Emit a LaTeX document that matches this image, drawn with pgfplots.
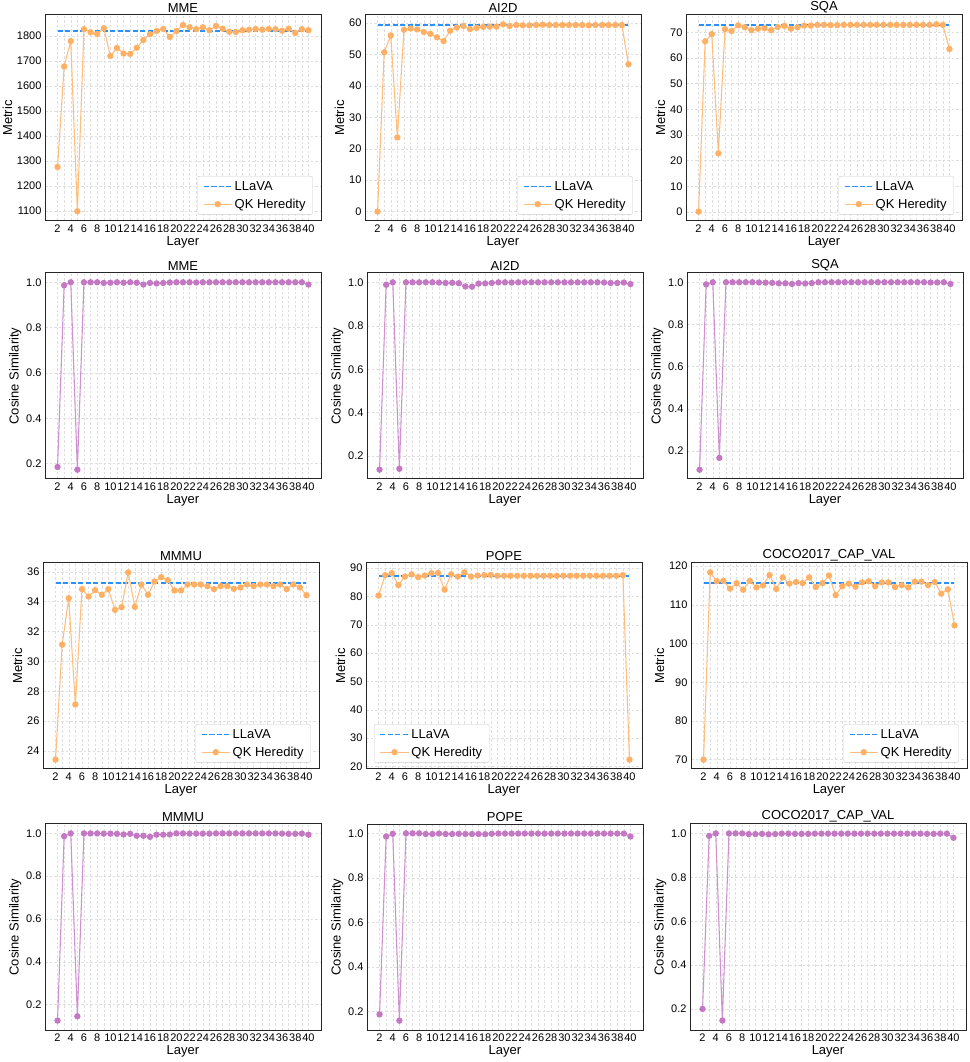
\documentclass[border=0pt]{standalone}
\usepackage{fontspec}
\setmainfont{Liberation Sans}
\usepackage{pgfplots}
\pgfplotsset{compat=1.18}

\definecolor{llava}{RGB}{40,145,255}
\definecolor{qkline}{RGB}{255,190,125}
\definecolor{qkmark}{RGB}{255,176,100}
\definecolor{cosline}{RGB}{208,145,208}
\definecolor{cosmark}{RGB}{196,120,196}

\pgfplotsset{
  panel/.style={
    width=276pt, height=206pt, scale only axis,
    xmin=0.1, xmax=41.9,
    xtick={2,4,...,40}, minor xtick={3,5,...,39},
    grid=both,
    major grid style={dash pattern=on 2.5pt off 2pt, black!13, line width=0.5pt},
    minor grid style={dash pattern=on 2.5pt off 2pt, black!13, line width=0.5pt},
    major tick length=0pt, minor tick length=0pt,
    axis line style={black!85, line width=1pt},
    xlabel={Layer},
    tick label style={font=\fontsize{11}{12}\selectfont},
    label style={font=\fontsize{13}{14}\selectfont},
    xlabel style={yshift=3pt},
    ylabel style={yshift=-2pt},
    title style={font=\fontsize{13}{14}\selectfont, yshift=-7.5pt},
    /pgf/number format/assume math mode=true,
    /pgf/number format/1000 sep={},
    legend cell align=left,
    legend style={font=\fontsize{13}{15}\selectfont, draw=black!20, rounded corners=2pt,
      fill=white, inner xsep=5pt, inner ysep=3pt, row sep=3pt},
    legend image code/.code={\draw[mark repeat=2,mark phase=2,#1]
      plot coordinates {(0cm,0cm) (0.5cm,0cm) (1cm,0cm)};},
  },
  metric/.style={panel, ylabel={Metric}},
  cosine/.style={panel, ylabel={Cosine Similarity},
    ytick={0.2,0.4,...,1.0},
    yticklabel style={/pgf/number format/.cd, fixed, fixed zerofill, precision=1}},
  llavaline/.style={color=llava, dash pattern=on 5pt off 2.5pt, line width=1.5pt, no markers},
  qk/.style={color=qkline, line width=1.1pt, mark=*, mark size=2.6pt,
    mark options={solid, draw=qkmark, fill=qkmark}},
  cs/.style={color=cosline, line width=1.1pt, mark=*, mark size=2.6pt,
    mark options={solid, draw=cosmark, fill=cosmark}},
}

\begin{document}
\begin{tikzpicture}
\useasboundingbox (0pt,0pt) rectangle (969pt,1062pt);

% ---------- row 1: metric ----------
\begin{axis}[metric, at={(45pt,841pt)}, title={MME}, ymin=1060, ymax=1884,
  ytick={1100,1200,...,1800},
  legend style={at={(0.97,0.03)}, anchor=south east}]
\addplot[llavaline] coordinates {(2,1819) (40,1819)};
\addlegendentry{LLaVA}
\addplot[qk] coordinates {(2,1276)(3,1678)(4,1780)(5,1099)(6,1827)(7,1815)(8,1808)(9,1831)(10,1720)(11,1752)(12,1730)(13,1728)(14,1753)(15,1784)(16,1807)(17,1820)(18,1828)(19,1796)(20,1820)(21,1844)(22,1835)(23,1827)(24,1835)(25,1823)(26,1840)(27,1829)(28,1817)(29,1816)(30,1823)(31,1825)(32,1828)(33,1825)(34,1828)(35,1827)(36,1821)(37,1829)(38,1812)(39,1827)(40,1823)};
\addlegendentry{QK Heredity}
\end{axis}

\begin{axis}[metric, at={(365pt,841pt)}, title={AI2D}, ymin=-3, ymax=62.6,
  ytick={0,10,...,60},
  legend style={at={(0.97,0.03)}, anchor=south east}]
\addplot[llavaline] coordinates {(2,59.4) (40,59.4)};
\addlegendentry{LLaVA}
\addplot[qk] coordinates {(2,0)(3,50.7)(4,56.1)(5,23.6)(6,57.9)(7,58.3)(8,58.0)(9,57.2)(10,56.6)(11,55.5)(12,54.3)(13,57.6)(14,58.6)(15,59.1)(16,58.1)(17,58.5)(18,58.8)(19,58.9)(20,58.9)(21,59.6)(22,59.1)(23,59.4)(24,59.3)(25,59.3)(26,59.4)(27,59.5)(28,59.4)(29,59.4)(30,59.4)(31,59.4)(32,59.4)(33,59.4)(34,59.3)(35,59.4)(36,59.4)(37,59.4)(38,59.4)(39,59.4)(40,46.9)};
\addlegendentry{QK Heredity}
\end{axis}

\begin{axis}[metric, at={(686pt,841pt)}, title={SQA}, ymin=-3.55, ymax=76.75,
  ytick={0,10,...,70},
  legend style={at={(0.97,0.03)}, anchor=south east}]
\addplot[llavaline] coordinates {(2,72.9) (40,72.9)};
\addlegendentry{LLaVA}
\addplot[qk] coordinates {(2,0.1)(3,66.5)(4,69.3)(5,22.8)(6,71.2)(7,70.5)(8,72.7)(9,72.0)(10,70.8)(11,71.4)(12,71.6)(13,70.8)(14,72.1)(15,72.5)(16,71.4)(17,72.0)(18,72.6)(19,72.6)(20,72.9)(21,72.9)(22,72.8)(23,72.8)(24,72.9)(25,72.9)(26,72.9)(27,72.9)(28,72.9)(29,72.9)(30,72.9)(31,72.9)(32,72.9)(33,72.9)(34,72.9)(35,72.9)(36,72.9)(37,72.9)(38,73.1)(39,72.9)(40,63.5)};
\addlegendentry{QK Heredity}
\end{axis}

% ---------- row 2: cosine ----------
\begin{axis}[cosine, at={(45pt,583pt)}, title={MME}, ymin=0.132, ymax=1.041]
\addplot[cs] coordinates {(2,0.185)(3,0.987)(4,1.0)(5,0.173)(6,1.0)(7,1.0)(8,1.0)(9,0.997)(10,0.998)(11,1.0)(12,0.998)(13,1.0)(14,0.998)(15,0.99)(16,0.997)(17,0.995)(18,0.997)(19,0.999)(20,1.0)(21,1.0)(22,1.0)(23,0.999)(24,1.0)(25,1.0)(26,1.0)(27,1.0)(28,1.0)(29,1.0)(30,1.0)(31,1.0)(32,1.0)(33,1.0)(34,1.0)(35,1.0)(36,1.0)(37,1.0)(38,1.0)(39,1.0)(40,0.99)};
\end{axis}

\begin{axis}[cosine, at={(367pt,583pt)}, title={AI2D}, ymin=0.095, ymax=1.043]
\addplot[cs] coordinates {(2,0.138)(3,0.989)(4,1.0)(5,0.142)(6,1.0)(7,1.0)(8,1.0)(9,1.0)(10,1.0)(11,0.999)(12,0.997)(13,0.998)(14,0.996)(15,0.981)(16,0.980)(17,0.994)(18,0.995)(19,0.997)(20,1.0)(21,1.0)(22,0.999)(23,1.0)(24,1.0)(25,1.0)(26,1.0)(27,1.0)(28,1.0)(29,1.0)(30,1.0)(31,1.0)(32,1.0)(33,1.0)(34,1.0)(35,1.0)(36,0.999)(37,0.997)(38,0.997)(39,0.999)(40,0.992)};
\end{axis}

\begin{axis}[cosine, at={(687pt,583pt)}, title={SQA}, ymin=0.067, ymax=1.044]
\addplot[cs] coordinates {(2,0.111)(3,0.99)(4,1.0)(5,0.167)(6,1.0)(7,1.0)(8,1.0)(9,1.0)(10,1.0)(11,0.999)(12,0.998)(13,0.997)(14,0.995)(15,0.995)(16,0.992)(17,0.996)(18,0.994)(19,0.996)(20,1.0)(21,1.0)(22,1.0)(23,1.0)(24,1.0)(25,1.0)(26,1.0)(27,1.0)(28,1.0)(29,1.0)(30,1.0)(31,1.0)(32,1.0)(33,1.0)(34,1.0)(35,1.0)(36,1.0)(37,0.999)(38,0.999)(39,1.0)(40,0.992)};
\end{axis}

% ---------- row 3: metric ----------
\begin{axis}[metric, at={(43pt,293pt)}, title={MMMU}, ymin=22.79, ymax=36.59,
  ytick={24,26,...,36},
  legend style={at={(0.97,0.03)}, anchor=south east}]
\addplot[llavaline] coordinates {(2,35.26) (40,35.26)};
\addlegendentry{LLaVA}
\addplot[qk] coordinates {(2,23.42)(3,31.12)(4,34.23)(5,27.11)(6,34.84)(7,34.34)(8,34.77)(9,34.46)(10,34.84)(11,33.45)(12,33.63)(13,35.96)(14,33.65)(15,35.15)(16,34.46)(17,35.35)(18,35.64)(19,35.44)(20,34.75)(21,34.75)(22,35.15)(23,35.15)(24,35.15)(25,35.04)(26,34.84)(27,35.04)(28,35.04)(29,34.86)(30,34.95)(31,35.15)(32,35.04)(33,35.15)(34,35.15)(35,35.04)(36,35.15)(37,34.84)(38,35.15)(39,34.95)(40,34.43)};
\addlegendentry{QK Heredity}
\end{axis}

\begin{axis}[metric, at={(366pt,293pt)}, title={POPE}, ymin=19.1, ymax=91.8,
  ytick={20,30,...,90},
  legend style={at={(0.03,0.03)}, anchor=south west}]
\addplot[llavaline] coordinates {(2,87.2) (40,87.2)};
\addlegendentry{LLaVA}
\addplot[qk] coordinates {(2,80.3)(3,87.5)(4,88.2)(5,84.0)(6,87.0)(7,87.8)(8,86.8)(9,87.4)(10,88.2)(11,88.3)(12,82.4)(13,87.8)(14,87.0)(15,88.5)(16,87.0)(17,87.4)(18,87.5)(19,87.6)(20,87.3)(21,87.3)(22,87.3)(23,87.3)(24,87.3)(25,87.3)(26,87.3)(27,87.3)(28,87.3)(29,87.3)(30,87.3)(31,87.3)(32,87.3)(33,87.3)(34,87.3)(35,87.3)(36,87.3)(37,87.3)(38,87.3)(39,87.5)(40,22.4)};
\addlegendentry{QK Heredity}
\end{axis}

\begin{axis}[metric, at={(691pt,293pt)}, title={COCO2017\_CAP\_VAL}, ymin=67.58, ymax=120.82,
  ytick={70,80,...,120},
  legend style={at={(0.97,0.03)}, anchor=south east}]
\addplot[llavaline] coordinates {(2,115.6) (40,115.6)};
\addlegendentry{LLaVA}
\addplot[qk] coordinates {(2,70.0)(3,118.4)(4,116.1)(5,116.2)(6,114.2)(7,115.6)(8,113.9)(9,116.2)(10,114.5)(11,115.0)(12,117.7)(13,114.1)(14,117.1)(15,115.5)(16,115.9)(17,115.6)(18,117.1)(19,114.6)(20,115.6)(21,117.6)(22,112.5)(23,114.8)(24,115.5)(25,114.7)(26,115.8)(27,116.1)(28,114.8)(29,115.8)(30,115.8)(31,114.6)(32,115.1)(33,114.5)(34,116.0)(35,116.0)(36,115.1)(37,115.9)(38,112.9)(39,114.0)(40,104.7)};
\addlegendentry{QK Heredity}
\end{axis}

% ---------- row 4: cosine ----------
\begin{axis}[cosine, at={(45pt,32pt)}, title={MMMU}, ymin=0.081, ymax=1.044]
\addplot[cs] coordinates {(2,0.125)(3,0.987)(4,1.0)(5,0.145)(6,1.0)(7,1.0)(8,1.0)(9,0.999)(10,0.999)(11,0.998)(12,0.995)(13,0.998)(14,0.989)(15,0.989)(16,0.984)(17,0.994)(18,0.994)(19,0.995)(20,1.0)(21,1.0)(22,0.999)(23,0.999)(24,0.999)(25,0.999)(26,1.0)(27,1.0)(28,1.0)(29,1.0)(30,1.0)(31,1.0)(32,1.0)(33,1.0)(34,1.0)(35,1.0)(36,0.999)(37,0.998)(38,0.998)(39,0.999)(40,0.994)};
\end{axis}

\begin{axis}[cosine, at={(367pt,32pt)}, title={POPE}, ymin=0.116, ymax=1.042]
\addplot[cs] coordinates {(2,0.186)(3,0.986)(4,0.998)(5,0.158)(6,1.0)(7,1.0)(8,1.0)(9,0.997)(10,0.997)(11,0.999)(12,0.997)(13,0.997)(14,0.998)(15,0.997)(16,0.997)(17,0.997)(18,0.996)(19,0.998)(20,0.999)(21,0.999)(22,0.999)(23,0.999)(24,0.999)(25,0.999)(26,0.999)(27,0.999)(28,0.999)(29,0.999)(30,0.999)(31,0.999)(32,0.999)(33,0.999)(34,0.999)(35,0.999)(36,0.999)(37,0.999)(38,0.999)(39,0.999)(40,0.986)};
\end{axis}

\begin{axis}[cosine, at={(690pt,32pt)}, title={COCO2017\_CAP\_VAL}, ymin=0.105, ymax=1.043]
\addplot[cs] coordinates {(2,0.201)(3,0.989)(4,1.0)(5,0.148)(6,1.0)(7,1.0)(8,1.0)(9,0.997)(10,0.997)(11,0.998)(12,0.996)(13,0.997)(14,0.999)(15,0.999)(16,0.998)(17,0.998)(18,0.998)(19,0.999)(20,0.999)(21,0.999)(22,0.999)(23,0.999)(24,0.999)(25,0.999)(26,0.999)(27,0.999)(28,0.999)(29,0.999)(30,0.999)(31,0.999)(32,0.999)(33,0.999)(34,0.999)(35,0.999)(36,0.998)(37,0.998)(38,0.999)(39,0.999)(40,0.98)};
\end{axis}

\end{tikzpicture}
\end{document}
